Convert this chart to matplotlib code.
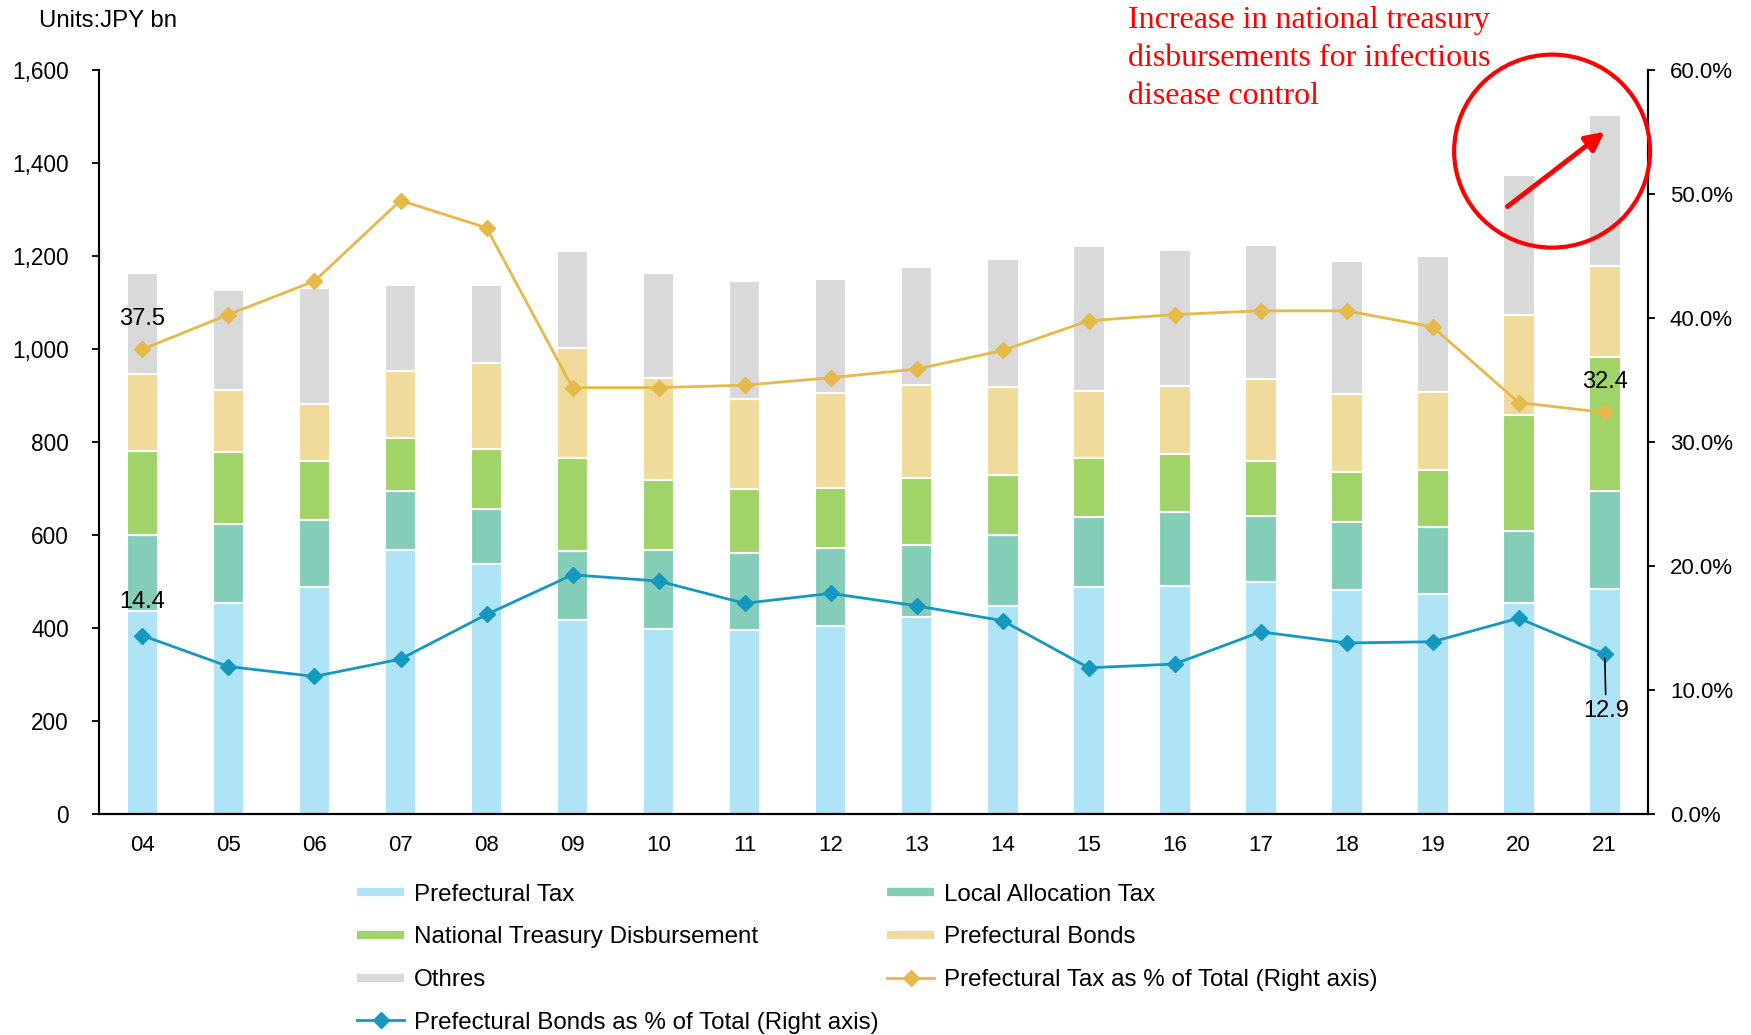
import matplotlib
matplotlib.use("Agg")
import matplotlib.pyplot as plt
import numpy as np
from matplotlib.lines import Line2D
from matplotlib.patches import Ellipse
from matplotlib.ticker import FuncFormatter, MultipleLocator

plt.rcParams['font.family'] = ['Liberation Sans', 'DejaVu Sans']

years = ['04', '05', '06', '07', '08', '09', '10', '11', '12',
         '13', '14', '15', '16', '17', '18', '19', '20', '21']

# JPY bn
pref_tax = [436, 454, 488, 567, 538, 418, 399, 396, 404, 423, 447, 488, 490, 500, 483, 473, 454, 485]
local_alloc = [164, 171, 144, 127, 118, 147, 170, 166, 168, 156, 153, 151, 159, 141, 146, 144, 156, 209]
treasury = [181, 153, 127, 116, 130, 201, 149, 137, 129, 144, 130, 127, 125, 118, 106, 123, 248, 289]
pref_bonds = [166, 135, 123, 144, 185, 236, 221, 195, 205, 200, 188, 145, 148, 178, 168, 168, 216, 197]
others = [216, 214, 250, 185, 168, 209, 226, 252, 245, 254, 276, 312, 291, 288, 286, 293, 300, 324]

# % of total (right axis)
tax_pct = [37.5, 40.3, 43.0, 49.5, 47.3, 34.4, 34.4, 34.6, 35.2, 35.9, 37.4, 39.8, 40.3, 40.6, 40.6, 39.3, 33.2, 32.4]
bond_pct = [14.4, 11.9, 11.1, 12.5, 16.1, 19.3, 18.8, 17.0, 17.8, 16.8, 15.6, 11.8, 12.1, 14.7, 13.8, 13.9, 15.8, 12.9]

c_tax = '#AEE4F5'
c_lat = '#84CDB9'
c_ntd = '#A0D468'
c_bond = '#F0DB9C'
c_oth = '#D9D9D9'
c_taxline = '#E5B94A'
c_bondline = '#1598BF'

fig = plt.figure(figsize=(17.51, 10.35), dpi=100)
ax = fig.add_axes([0.0568, 0.2135, 0.8842, 0.7185])
ax2 = ax.twinx()

x = np.arange(len(years))
w = 0.37
bottom = np.zeros(len(years))
for vals, col in [(pref_tax, c_tax), (local_alloc, c_lat), (treasury, c_ntd),
                  (pref_bonds, c_bond), (others, c_oth)]:
    ax.bar(x, vals, w, bottom=bottom, color=col, edgecolor='white', linewidth=1.5, zorder=2)
    bottom += np.array(vals)

ax2.plot(x, tax_pct, color=c_taxline, lw=2, marker='D', markersize=8, zorder=3)
ax2.plot(x, bond_pct, color=c_bondline, lw=2, marker='D', markersize=8, zorder=3)

ax.set_xlim(-0.5, len(years) - 0.5)
ax.set_ylim(0, 1600)
ax2.set_ylim(0, 60)
ax.yaxis.set_major_locator(MultipleLocator(200))
ax2.yaxis.set_major_locator(MultipleLocator(10))
ax.yaxis.set_major_formatter(FuncFormatter(lambda v, p: f'{int(v):,}'))
ax2.yaxis.set_major_formatter(FuncFormatter(lambda v, p: f'{v:.1f}%'))
ax.set_xticks(x)
ax.set_xticklabels(years)

ax.tick_params(axis='x', length=0, pad=15, labelsize=16)
ax.tick_params(axis='y', length=5, width=1.3, pad=17, labelsize=16.3)
ax2.tick_params(axis='y', length=5, width=1.3, pad=11, labelsize=16)

for a in (ax, ax2):
    a.spines['top'].set_visible(False)
    for s in ('left', 'right', 'bottom'):
        a.spines[s].set_linewidth(1.5)
        a.spines[s].set_color('black')

# data labels
lab_fs = 17
ax2.annotate(f'{tax_pct[0]:.1f}', (x[0], tax_pct[0]), xytext=(0, 22), textcoords='offset points',
             ha='center', va='center', fontsize=lab_fs)
ax2.annotate(f'{bond_pct[0]:.1f}', (x[0], bond_pct[0]), xytext=(0, 24), textcoords='offset points',
             ha='center', va='center', fontsize=lab_fs)
ax2.annotate(f'{tax_pct[-1]:.1f}', (x[-1], tax_pct[-1]), xytext=(0, 22), textcoords='offset points',
             ha='center', va='center', fontsize=lab_fs)
ax2.annotate(f'{bond_pct[-1]:.1f}', (x[-1], bond_pct[-1]), xytext=(1, -41), textcoords='offset points',
             ha='center', va='center', fontsize=lab_fs,
             arrowprops=dict(arrowstyle='-', color='black', lw=1.2, shrinkA=2, shrinkB=3))

fig.text(0.022, 0.980, 'Units:JPY bn', fontsize=17.3, ha='left', va='center')

# red callout
fig.text(0.644, 0.994, 'Increase in national treasury\ndisbursements for infectious\ndisease control',
         color='red', fontsize=23, family=['Liberation Serif', 'DejaVu Serif'],
         ha='left', va='top', linespacing=1.41)
circ = Ellipse((0.8864, 0.854), 0.1119, 0.1865, transform=fig.transFigure,
               fill=False, edgecolor='red', lw=3)
fig.add_artist(circ)
ax.annotate('', xy=(0.9164, 0.8727), xytext=(0.8609, 0.8004), xycoords='figure fraction',
            textcoords='figure fraction',
            arrowprops=dict(arrowstyle='-|>', color='red', lw=3.5, mutation_scale=28,
                            shrinkA=0, shrinkB=0))

def bar_handle(col):
    return Line2D([], [], color=col, lw=6, solid_capstyle='butt')

def line_handle(col):
    return Line2D([], [], color=col, lw=2, marker='D', markersize=8)

handles = [bar_handle(c_tax), bar_handle(c_ntd), bar_handle(c_oth), line_handle(c_bondline),
           bar_handle(c_lat), bar_handle(c_bond), line_handle(c_taxline)]
labels = ['Prefectural Tax', 'National Treasury Disbursement', 'Othres',
          'Prefectural Bonds as % of Total (Right axis)',
          'Local Allocation Tax', 'Prefectural Bonds', 'Prefectural Tax as % of Total (Right axis)']
fig.legend(handles, labels, loc='upper left', bbox_to_anchor=(0.204, 0.146), ncol=2,
           frameon=False, fontsize=17.4, borderpad=0, borderaxespad=0, handlelength=1.95,
           handletextpad=0.4, columnspacing=0.35, labelspacing=0.85)

fig.savefig('out.png', dpi=100)
